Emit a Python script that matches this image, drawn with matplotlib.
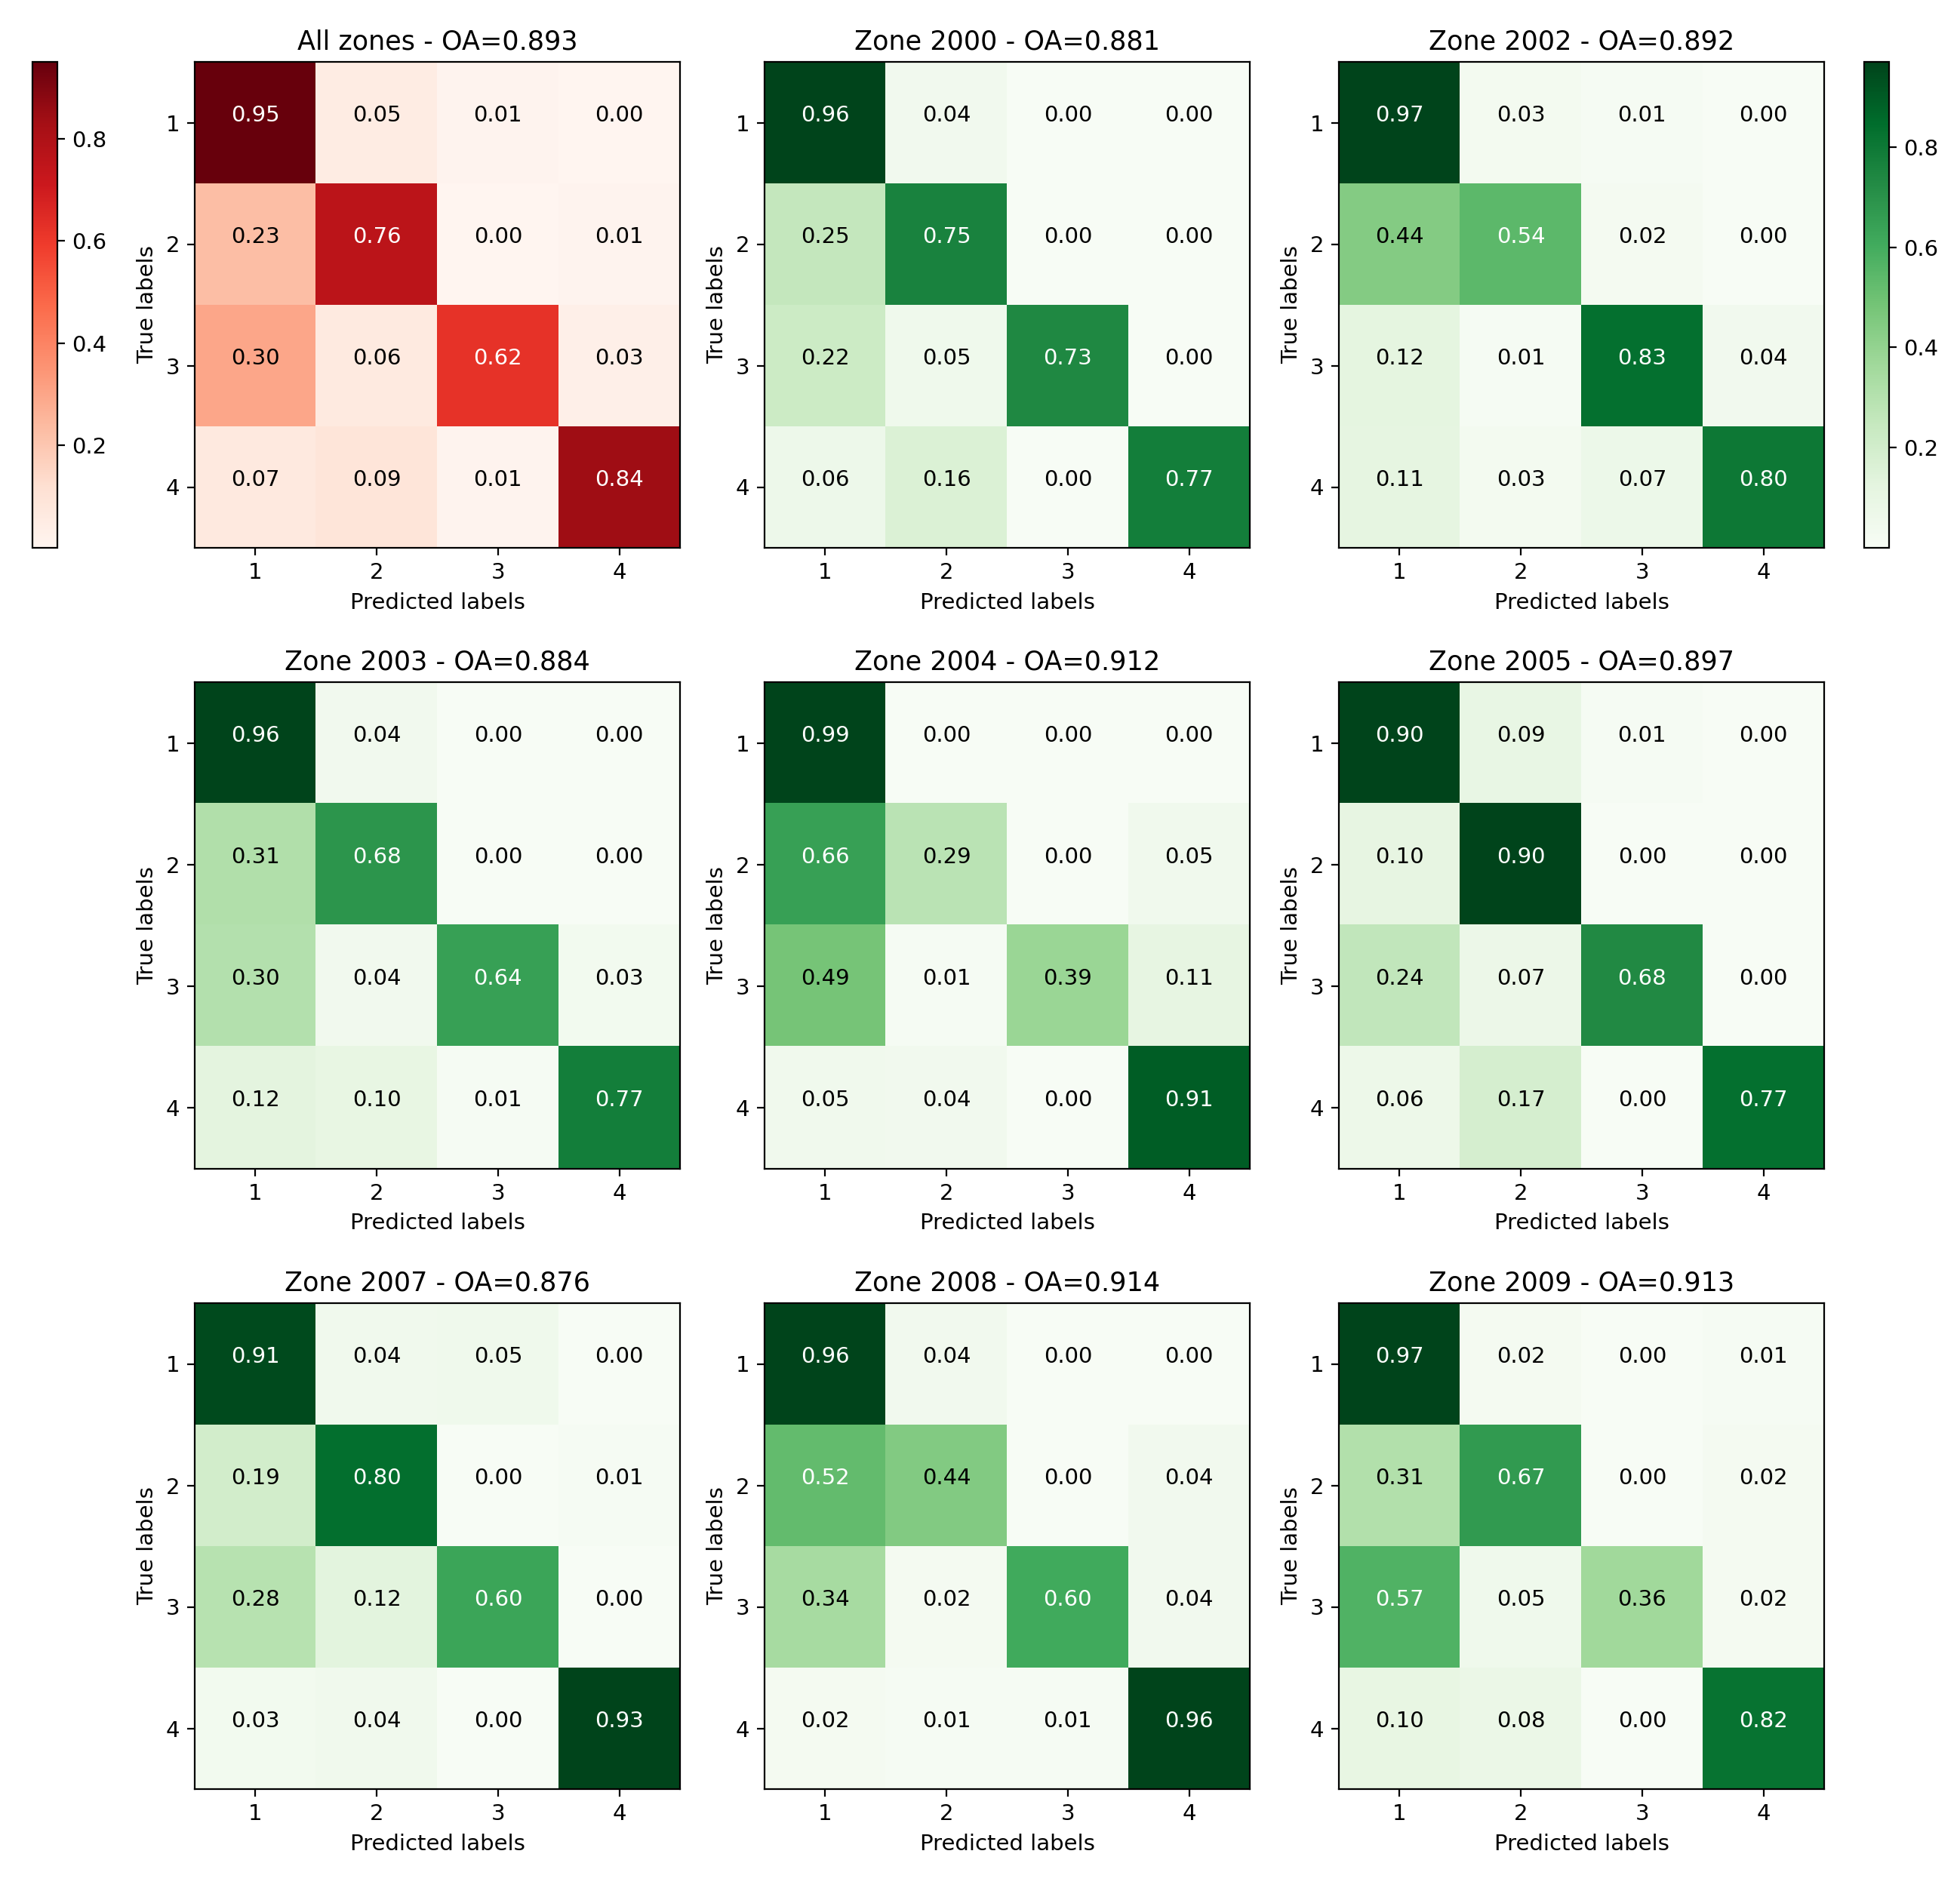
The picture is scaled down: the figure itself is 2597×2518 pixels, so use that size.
import numpy as np
import matplotlib
matplotlib.use('Agg')
import matplotlib.pyplot as plt

# ---- data (normalised confusion matrices) ----
class_labels = ['1', '2', '3', '4']

titles = ['All zones - OA=0.893', 'Zone 2000 - OA=0.881', 'Zone 2002 - OA=0.892',
          'Zone 2003 - OA=0.884', 'Zone 2004 - OA=0.912', 'Zone 2005 - OA=0.897',
          'Zone 2007 - OA=0.876', 'Zone 2008 - OA=0.914', 'Zone 2009 - OA=0.913']

cm_all = [[0.95, 0.05, 0.01, 0.00],
          [0.23, 0.76, 0.00, 0.01],
          [0.30, 0.06, 0.62, 0.03],
          [0.07, 0.09, 0.01, 0.84]]
cm_2000 = [[0.96, 0.04, 0.00, 0.00],
           [0.25, 0.75, 0.00, 0.00],
           [0.22, 0.05, 0.73, 0.00],
           [0.06, 0.16, 0.00, 0.77]]
cm_2002 = [[0.97, 0.03, 0.01, 0.00],
           [0.44, 0.54, 0.02, 0.00],
           [0.12, 0.01, 0.83, 0.04],
           [0.11, 0.03, 0.07, 0.80]]
cm_2003 = [[0.96, 0.04, 0.00, 0.00],
           [0.31, 0.68, 0.00, 0.00],
           [0.30, 0.04, 0.64, 0.03],
           [0.12, 0.10, 0.01, 0.77]]
cm_2004 = [[0.99, 0.00, 0.00, 0.00],
           [0.66, 0.29, 0.00, 0.05],
           [0.49, 0.01, 0.39, 0.11],
           [0.05, 0.04, 0.00, 0.91]]
cm_2005 = [[0.90, 0.09, 0.01, 0.00],
           [0.10, 0.90, 0.00, 0.00],
           [0.24, 0.07, 0.68, 0.00],
           [0.06, 0.17, 0.00, 0.77]]
cm_2007 = [[0.91, 0.04, 0.05, 0.00],
           [0.19, 0.80, 0.00, 0.01],
           [0.28, 0.12, 0.60, 0.00],
           [0.03, 0.04, 0.00, 0.93]]
cm_2008 = [[0.96, 0.04, 0.00, 0.00],
           [0.52, 0.44, 0.00, 0.04],
           [0.34, 0.02, 0.60, 0.04],
           [0.02, 0.01, 0.01, 0.96]]
cm_2009 = [[0.97, 0.02, 0.00, 0.01],
           [0.31, 0.67, 0.00, 0.02],
           [0.57, 0.05, 0.36, 0.02],
           [0.10, 0.08, 0.00, 0.82]]

matrices = [cm_all, cm_2000, cm_2002, cm_2003, cm_2004, cm_2005,
            cm_2007, cm_2008, cm_2009]

# text a touch larger than the defaults, as in the original render
plt.rcParams['font.size'] = 10.5
plt.rcParams['axes.titlesize'] = 12.6

# ---- layout ----
W, H = 2597, 2518
fig = plt.figure(figsize=(W / 200, H / 200), dpi=200)

col_left = [258 / W, 1013 / W, 1774 / W]
row_bottom = [1 - 726 / H, 1 - 1548.5 / H, 1 - 2371 / H]
ax_w, ax_h = 643 / W, 644 / H

images = []
for i, (cm, title) in enumerate(zip(matrices, titles)):
    r, c = divmod(i, 3)
    ax = fig.add_axes([col_left[c], row_bottom[r], ax_w, ax_h])
    cm = np.asarray(cm)
    cmap = plt.cm.Reds if i == 0 else plt.cm.Greens
    im = ax.imshow(cm, cmap=cmap, interpolation='nearest', aspect='auto')
    images.append(im)
    thresh = (cm.max() + cm.min()) / 2
    for (yy, xx), v in np.ndenumerate(cm):
        # cell values sit a little above the cell centre in the original
        ax.annotate(f'{v:.2f}', xy=(xx, yy), xytext=(0, 3.5),
                    textcoords='offset points', ha='center', va='center',
                    fontsize=10.5, color='white' if v > thresh else 'black')
    ax.set_xticks(range(len(class_labels)))
    ax.set_xticklabels(class_labels)
    ax.set_yticks(range(len(class_labels)))
    ax.set_yticklabels(class_labels)
    ax.set_xlabel('Predicted labels')
    ax.set_ylabel('True labels')
    ax.set_title(title)

# colour bars: left one for "All zones", right one for the green zones
cax_l = fig.add_axes([43 / W, row_bottom[0], 33 / W, ax_h])
fig.colorbar(images[0], cax=cax_l, ticks=[0.2, 0.4, 0.6, 0.8])
cax_r = fig.add_axes([2470 / W, row_bottom[0], 33 / W, ax_h])
fig.colorbar(images[2], cax=cax_r, ticks=[0.2, 0.4, 0.6, 0.8])

fig.savefig('out.png', dpi=200)
